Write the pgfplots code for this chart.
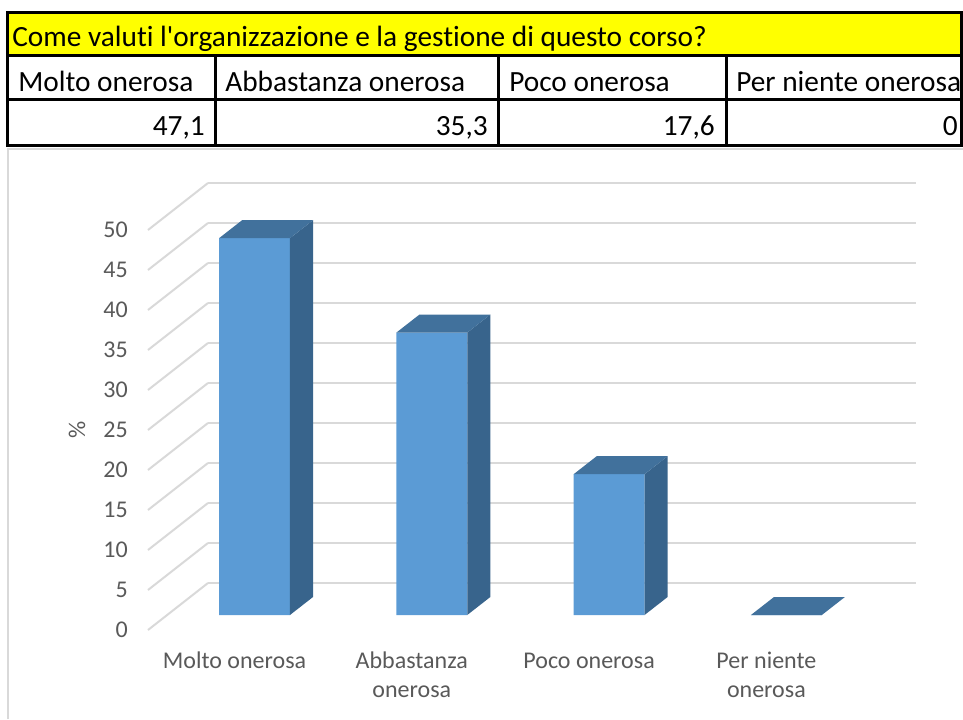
\documentclass[border=0pt]{standalone}
\usepackage{pgfplots}
\pgfplotsset{compat=1.18}
\usepackage{fontspec}
\setmainfont{Carlito}[Ligatures={NoCommon}]
\definecolor{barfront}{HTML}{5B9BD5}
\definecolor{bartop}{HTML}{41719C}
\definecolor{barside}{HTML}{38648C}
\definecolor{gridc}{HTML}{D9D9D9}
\definecolor{labc}{HTML}{595959}
\definecolor{tyellow}{HTML}{FFFF00}
\pgfplotsset{
  chartax/.style={scale only axis, clip=false, width=531pt, height=300pt,
    anchor=south west, axis line style={draw=none}, major tick length=0pt,
    ymin=0, ymax=50, /pgf/number format/assume math mode=true,
    tick label style={font=\fontsize{18}{21.75}\selectfont, text=labc}}
}
\begin{document}
\begin{tikzpicture}
\path[use as bounding box] (0,0) rectangle (722.25pt,539.25pt);
\begin{scope}[x=0.75pt,y=-0.75pt,yshift=539.25pt]
  % chart area border
  \draw[gridc, line width=1.5pt] (8,719) -- (8,149) -- (963,149);
  % table
  \fill[tyellow] (7,13) rectangle (962,56);
  \draw[black, line width=2.25pt] (7,13) rectangle (961.5,146);
  \draw[black, line width=2.25pt] (7,56) -- (961.5,56) (7,100) -- (961.5,100);
  \draw[black, line width=2.25pt] (215,56) -- (215,146) (498,56) -- (498,146) (726,56) -- (726,146);
  \begin{scope}[every node/.style={inner sep=0pt, font=\fontsize{22}{26}\selectfont}]
    \node[anchor=base west] at (12,47) {Come valuti l\textquotesingle organizzazione e la gestione di questo corso?};
    \node[anchor=base west] at (18,92) {Molto onerosa};
    \node[anchor=base west] at (225,92) {Abbastanza onerosa};
    \node[anchor=base west] at (509,92) {Poco onerosa};
    \node[anchor=base west] at (736,92) {Per niente onerosa};
    \node[anchor=base east] at (205,136) {47,1};
    \node[anchor=base east] at (488,136) {35,3};
    \node[anchor=base east] at (715,136) {17,6};
    \node[anchor=base east] at (958,136) {0};
  \end{scope}
  \node[rotate=90, inner sep=0pt, text=labc, font=\fontsize{18}{20}\selectfont] at (77,430) {\%};
\end{scope}

% back wall
\begin{axis}[chartax, at={(156pt,102pt)}, xmin=0, xmax=1,
  ytick={0,5,...,50}, yticklabels={}, xtick=\empty,
  ymajorgrids, grid style={gridc, line width=1.5pt}]
  \addplot[draw=none] coordinates {(0,0) (1,50)};
\end{axis}

% front plane: tick labels and side diagonals
\begin{axis}[chartax, at={(111pt,66.75pt)}, xmin=-0.4879, xmax=3.5054,
  ytick={0,5,...,50}, xtick={0,1,2,3},
  xticklabels={\strut Molto onerosa,{\strut Abbastanza\\onerosa},\strut Poco onerosa,{\strut Per niente\\onerosa}},
  yticklabel style={anchor=east, inner sep=0pt, xshift=-15pt},
  xticklabel style={anchor=north, inner sep=0pt, yshift=-13.5pt, align=center}]
  \addplot[gridc, line width=1.5pt] coordinates {(-0.4879,0) (-0.1495,5.875)};
  \addplot[gridc, line width=1.5pt] coordinates {(-0.4879,5) (-0.1495,10.875)};
  \addplot[gridc, line width=1.5pt] coordinates {(-0.4879,10) (-0.1495,15.875)};
  \addplot[gridc, line width=1.5pt] coordinates {(-0.4879,15) (-0.1495,20.875)};
  \addplot[gridc, line width=1.5pt] coordinates {(-0.4879,20) (-0.1495,25.875)};
  \addplot[gridc, line width=1.5pt] coordinates {(-0.4879,25) (-0.1495,30.875)};
  \addplot[gridc, line width=1.5pt] coordinates {(-0.4879,30) (-0.1495,35.875)};
  \addplot[gridc, line width=1.5pt] coordinates {(-0.4879,35) (-0.1495,40.875)};
  \addplot[gridc, line width=1.5pt] coordinates {(-0.4879,40) (-0.1495,45.875)};
  \addplot[gridc, line width=1.5pt] coordinates {(-0.4879,45) (-0.1495,50.875)};
  \addplot[gridc, line width=1.5pt] coordinates {(-0.4879,50) (-0.1495,55.875)};
\end{axis}

% bars
\begin{axis}[chartax, at={(126pt,78pt)}, xmin=-0.4879, xmax=3.5054, hide axis]
  \addplot[ybar, bar width=53.25pt, fill=barfront, draw=none] coordinates {(0,47.1) (1,35.3) (2,17.6) (3,0)};
  % side faces
  \addplot[fill=barside, draw=none] coordinates {(0.2,0) (0.33,2.25) (0.33,49.35) (0.2,47.1)} -- cycle;
  \addplot[fill=barside, draw=none] coordinates {(1.2,0) (1.33,2.25) (1.33,37.55) (1.2,35.3)} -- cycle;
  \addplot[fill=barside, draw=none] coordinates {(2.2,0) (2.33,2.25) (2.33,19.85) (2.2,17.6)} -- cycle;
  % top faces
  \addplot[fill=bartop, draw=none] coordinates {(-0.2,47.1) (0.2,47.1) (0.33,49.35) (-0.07,49.35)} -- cycle;
  \addplot[fill=bartop, draw=none] coordinates {(0.8,35.3) (1.2,35.3) (1.33,37.55) (0.93,37.55)} -- cycle;
  \addplot[fill=bartop, draw=none] coordinates {(1.8,17.6) (2.2,17.6) (2.33,19.85) (1.93,19.85)} -- cycle;
  \addplot[fill=bartop, draw=none] coordinates {(2.8,0) (3.2,0) (3.33,2.25) (2.93,2.25)} -- cycle;
\end{axis}
\end{tikzpicture}
\end{document}
